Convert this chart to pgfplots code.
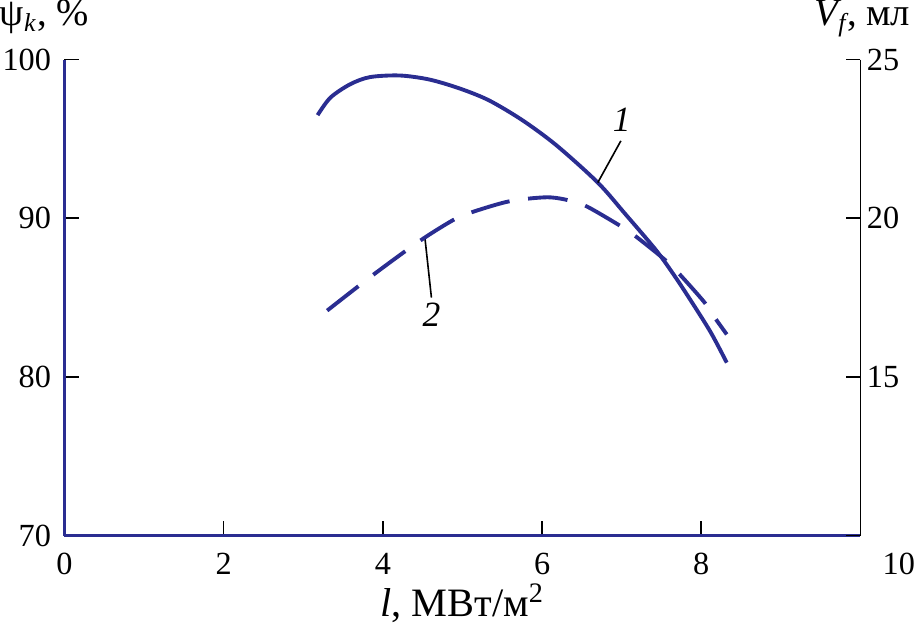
\documentclass[border=0pt]{standalone}
\usepackage{fontspec}
\setmainfont{Liberation Serif}
\usepackage{pgfplots}
\pgfplotsset{compat=1.18}
\definecolor{cblue}{RGB}{42,45,145}
\begin{document}
\begin{tikzpicture}[font=\fontsize{10}{12}\selectfont]
\pgfplotsset{
  common/.style={
    scale only axis, width=246.7pt, height=147.5pt,
    xmin=0, xmax=10, clip=false,
    tick align=inside, major tick length=4.6pt,
    every tick/.style={black, line width=0.5pt},
    /pgf/number format/assume math mode=true,
    tick label style={font=\fontsize{10}{12}\selectfont, inner sep=0pt},
  }
}
\begin{axis}[common,
  ymin=70, ymax=100,
  axis x line*=bottom, axis y line*=left,
  axis line style={cblue, line width=0.9pt, -},
  xtick={0,2,4,6,8}, ytick={70,80,90,100},
  xticklabel style={yshift=-5.2pt},
  yticklabel style={xshift=-4pt},
  xlabel={\textit{l}, МВт/м\textsuperscript{2}},
  xlabel style={at={(rel axis cs:0.5,0)}, anchor=base, inner sep=0pt, yshift=-25pt, font=\fontsize{12.5}{15}\selectfont},
]
\addplot[cblue, line width=1.2pt, smooth] coordinates {
(3.18,96.5) (3.34,97.6) (3.59,98.45) (3.84,98.9) (4.21,99.0) (4.58,98.75)
(4.96,98.19) (5.33,97.44) (5.75,96.19) (6.18,94.6) (6.70,92.25)
(7.04,90.3) (7.43,88.0) (7.66,86.4) (7.87,84.8) (8.12,82.8) (8.32,80.9)
};
\draw[black, line width=0.5pt] (axis cs:6.99,94.88) -- (axis cs:6.70,92.25);
\node[font=\fontsize{11}{13}\selectfont\itshape] at (axis cs:7.0,96.19) {1};
\draw[black, line width=0.5pt] (axis cs:4.61,85.0) -- (axis cs:4.53,88.69);
\node[font=\fontsize{11}{13}\selectfont\itshape] at (axis cs:4.61,83.94) {2};
\node[anchor=base, inner sep=0pt, xshift=-6.2pt, yshift=10.5pt, font=\fontsize{12}{14}\selectfont] at (rel axis cs:0,1) {ψ\textsubscript{\itshape k}, \%};
\end{axis}
\begin{axis}[common,
  ymin=10, ymax=25,
  axis x line=none, axis y line*=right,
  axis line style={black, line width=0.6pt, -},
  ytick={15,20,25},
  yticklabel style={xshift=1.8pt},
  extra y ticks={10},
  extra y tick style={yticklabel style={yshift=-8.9pt, xshift=4.9pt}},
]
\addplot[cblue, line width=1.2pt, smooth, dash pattern=on 12.3pt off 5.8pt] coordinates {
(3.30,17.09) (3.88,18.22) (4.46,19.28) (4.88,19.94) (5.08,20.16) (5.58,20.53)
(6.04,20.66) (6.29,20.59) (6.54,20.4) (6.95,19.81) (7.14,19.5) (7.53,18.72)
(7.70,18.31) (8.03,17.38) (8.16,16.9) (8.32,16.34)
};
\node[anchor=base, inner sep=0pt, xshift=0.6pt, yshift=10.5pt, font=\fontsize{12}{14}\selectfont] at (rel axis cs:1,1) {\textit{V\textsubscript{f}}, мл};
\end{axis}
\end{tikzpicture}
\end{document}
